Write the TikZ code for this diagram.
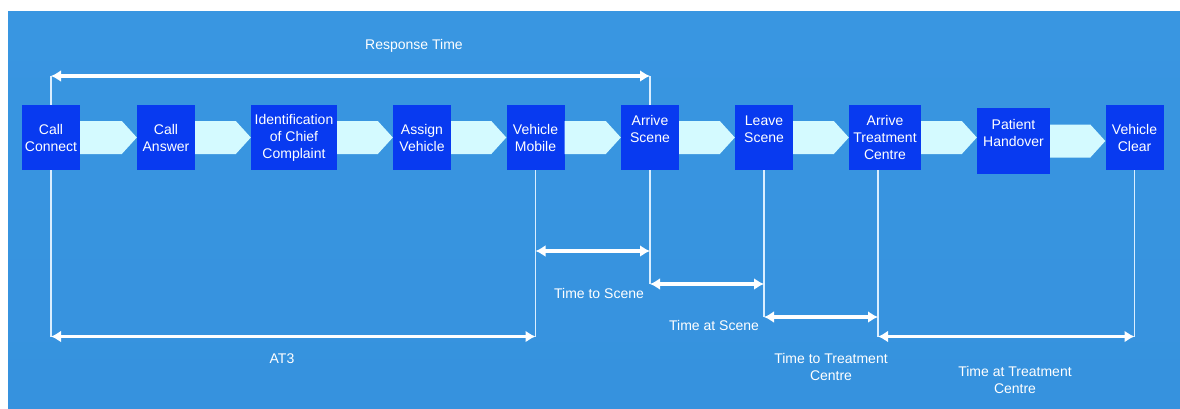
\documentclass[tikz,border=0pt]{standalone}
\usepackage{fontspec}
\setmainfont{Liberation Sans}
\usetikzlibrary{positioning,arrows.meta}
\definecolor{bgtop}{RGB}{57,150,225}
\definecolor{bgmid}{RGB}{64,170,250}
\definecolor{bgbot}{RGB}{54,146,222}
\definecolor{stageblue}{RGB}{8,58,240}
\definecolor{chevcyan}{RGB}{212,250,255}
\definecolor{tickwhite}{RGB}{218,238,255}
\begin{document}
\begin{tikzpicture}[
		x=1pt, y=-1pt,
		font=\fontsize{14}{17}\selectfont,
		every node/.style={
				font=\fontsize{14}{17}\selectfont,
				text=white,
			},
		stage/.style={fill=stageblue, minimum width=58pt, minimum height=65pt, inner sep=0pt, align=center},
		chev/.style={fill=chevcyan},
		tick/.style={tickwhite, line width=1.5pt},
		span/.style={white, line width=3.5pt, <->, >={Latex[length=10pt,width=12pt]}},
		lbl/.style={align=center, inner sep=0pt},
	]
	\useasboundingbox (0,0) rectangle (1180,408);
	\fill[white] (0,0) rectangle (1180,408);
	\shade[top color=bgtop, middle color=bgmid, bottom color=bgbot] (8,11) rectangle (1180,408);

	% stages
	\node[stage] (conn) at (51,137.5) {Call\\Connect};
	\node[stage] (ans) at (166,137.5) {Call\\Answer};
	\node[stage, minimum width=86pt] (ident) at (294,137.5) {Identification\\of Chief\\Complaint};
	\node[stage] (assign) at (422,137.5) {Assign\\Vehicle};
	\node[stage] (mobile) at (535.5,137.5) {Vehicle\\Mobile};
	\node[stage] (arrsc) at (650,137.5) {Arrive\\Scene\\\mbox{}};
	\node[stage] (leave) at (764,137.5) {Leave\\Scene\\\mbox{}};
	\node[stage, minimum width=72pt] (arrtc) at (885,137.5) {Arrive\\Treatment\\Centre};
	\node[stage, minimum width=73pt, minimum height=66pt] (handover) at (1013.5,141) {Patient\\Handover\\\mbox{}};
	\node[stage] (clear) at (1134.5,137.5) {Vehicle\\Clear};

	\foreach \a/\b in {conn/ans, ans/ident, ident/assign, assign/mobile, mobile/arrsc, arrsc/leave, leave/arrtc, arrtc/handover, handover/clear} {
			\coordinate (s) at (\a.east);
			\coordinate (t) at (\b.west |- \a.east);
			\fill[chev] ([yshift=16.5pt]s) -- ([xshift=-15pt,yshift=16.5pt]t) -- (t)
				-- ([xshift=-15pt,yshift=-16.5pt]t) -- ([yshift=-16.5pt]s) -- cycle;
		}

	% levels of the time spans
	\coordinate (lvresp) at (0,76);
	\coordinate (lvscene) at (0,251);
	\coordinate (lvat) at (0,284);
	\coordinate (lvtt) at (0,317);
	\coordinate (lvlow) at (0,336.5);
	\coordinate (tcx) at ([xshift=-7pt]arrtc.south);

	\draw[tick] (conn.north) -- (conn.north |- lvresp);
	\draw[tick] (conn.south) -- (conn.south |- lvlow);
	\draw[tick] (mobile.south) -- (mobile.south |- lvlow);
	\draw[tick] (arrsc.north) -- (arrsc.north |- lvresp);
	\draw[tick] (arrsc.south) -- (arrsc.south |- lvat);
	\draw[tick] (leave.south) -- (leave.south |- lvtt);
	\draw[tick] (tcx) -- (tcx |- lvlow);
	\draw[tick] (clear.south) -- (clear.south |- lvlow);

	\draw[span] (conn.north |- lvresp) -- (arrsc.north |- lvresp);
	\draw[span] (mobile.south |- lvscene) -- (arrsc.south |- lvscene);
	\draw[span] (arrsc.south |- lvat) -- (leave.south |- lvat);
	\draw[span] (leave.south |- lvtt) -- (tcx |- lvtt);
	\draw[span] (tcx |- lvlow) -- (clear.south |- lvlow);
	\draw[span] (conn.south |- lvlow) -- (mobile.south |- lvlow);

	\node[lbl] (resp) at (414,46) {Response Time};
	\node[lbl] (tscene) at (599,293) {Time to Scene};
	\node[lbl] (tat) at (714,325) {Time at Scene};
	\node[lbl] (ttreat) at (831,367) {Time to Treatment\\Centre};
	\node[lbl] (tattreat) at (1015,380) {Time at Treatment\\Centre};
	\node[lbl] (at3) at (282,359) {AT3};
\end{tikzpicture}
\end{document}
